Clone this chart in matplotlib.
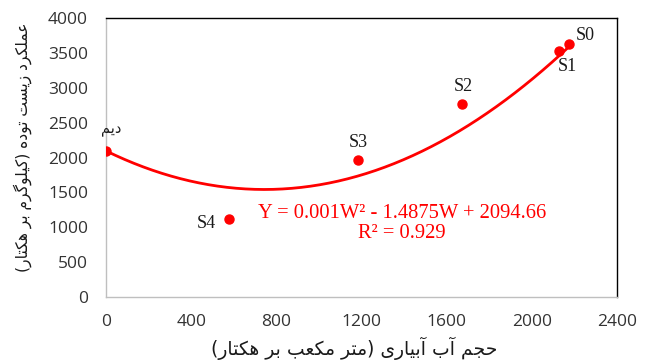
import matplotlib
matplotlib.use("Agg")
import matplotlib.pyplot as plt
import numpy as np

# Irrigation volume (m3/ha) and biomass yield (kg/ha) per treatment
water = [0, 578, 1183, 1672, 2128, 2175]
biomass = [2090, 1120, 1960, 2770, 3520, 3630]
treatments = ["دیم", "S4", "S3", "S2", "S1", "S0"]

# Quadratic trend: Y = a W^2 + b W + c
trend_coef = [0.001, -1.4875, 2094.66]
trend_r2 = 0.929

x_ticks = [0, 400, 800, 1200, 1600, 2000, 2400]
y_ticks = [0, 500, 1000, 1500, 2000, 2500, 3000, 3500, 4000]

x_title = "حجم آب آبیاری (متر مکعب بر هکتار)"
y_title = "عملکرد زیست توده (کیلوگرم بر هکتار)"

# --- minimal Persian shaping (matplotlib has no complex text layout) ---
FORMS = {
    '\u0622': ('\uFE81', '\uFE82', None, None),
    '\u0627': ('\uFE8D', '\uFE8E', None, None),
    '\u0628': ('\uFE8F', '\uFE90', '\uFE91', '\uFE92'),
    '\u062A': ('\uFE95', '\uFE96', '\uFE97', '\uFE98'),
    '\u062C': ('\uFE9D', '\uFE9E', '\uFE9F', '\uFEA0'),
    '\u062D': ('\uFEA1', '\uFEA2', '\uFEA3', '\uFEA4'),
    '\u062F': ('\uFEA9', '\uFEAA', None, None),
    '\u0631': ('\uFEAD', '\uFEAE', None, None),
    '\u0632': ('\uFEAF', '\uFEB0', None, None),
    '\u0633': ('\uFEB1', '\uFEB2', '\uFEB3', '\uFEB4'),
    '\u0639': ('\uFEC9', '\uFECA', '\uFECB', '\uFECC'),
    '\u0644': ('\uFEDD', '\uFEDE', '\uFEDF', '\uFEE0'),
    '\u0645': ('\uFEE1', '\uFEE2', '\uFEE3', '\uFEE4'),
    '\u0647': ('\uFEE9', '\uFEEA', '\uFEEB', '\uFEEC'),
    '\u0648': ('\uFEED', '\uFEEE', None, None),
    '\u06A9': ('\uFB8E', '\uFB8F', '\uFB90', '\uFB91'),
    '\u06AF': ('\uFB92', '\uFB93', '\uFB94', '\uFB95'),
    '\u06CC': ('\uFBFC', '\uFBFD', '\uFBFE', '\uFBFF'),
}


def rtl(text):
    text = text.replace('\u064A', '\u06CC').replace('\u0643', '\u06A9')
    out = []
    for i, ch in enumerate(text):
        f = FORMS.get(ch)
        if f is None:
            out.append(ch)
            continue
        prev = text[i - 1] if i > 0 else ''
        nxt = text[i + 1] if i + 1 < len(text) else ''
        join_prev = prev in FORMS and FORMS[prev][2] is not None
        join_next = f[2] is not None and nxt in FORMS
        if join_prev and join_next:
            out.append(f[3])
        elif join_prev:
            out.append(f[1])
        elif join_next:
            out.append(f[2])
        else:
            out.append(f[0])
    vis = ''.join(reversed(out))
    return vis.translate(str.maketrans('()', ')('))


RED = '#FF0000'
W, H = 650, 360
fig = plt.figure(figsize=(W / 100, H / 100), dpi=100)
ax = fig.add_axes([106 / W, 1 - 297 / H, (617 - 106) / W, (297 - 18) / H])

# trend curve
wx = np.linspace(0, max(water), 300)
ax.plot(wx, np.polyval(trend_coef, wx), color=RED, lw=2.0, zorder=2)

# observations
ax.plot(water, biomass, 'o', color=RED, ms=6.5, zorder=3)

offsets = {
    "دیم": (4, 16),
    "S4": (-16.5, -3),
    "S3": (0, 13),
    "S2": (0.7, 12.2),
    "S1": (5.8, -10.8),
    "S0": (11.5, 5.8),
}
for name, x, y in zip(treatments, water, biomass):
    dx, dy = offsets[name]
    if name.isascii():
        ax.annotate(name, (x, y), xytext=(dx, dy), textcoords='offset points',
                    ha='center', va='center', fontsize=13,
                    family='Liberation Serif', color='#1a1a1a')
    else:
        ax.annotate(rtl(name), (x, y), xytext=(dx, dy), textcoords='offset points',
                    ha='center', va='center', fontsize=10.5,
                    family='DejaVu Sans', color='#1a1a1a')

a, b, c = trend_coef
eq = f"Y = {a:g}W\u00b2 - {abs(b):g}W + {c:g}"
ax.text(1390, 1195, eq, ha='center', va='center', fontsize=14.8,
        family='Liberation Serif', color=RED)
ax.text(1390, 905, f"R\u00b2 = {trend_r2:g}", ha='center', va='center',
        fontsize=14.8, family='Liberation Serif', color=RED)

ax.set_xlim(0, 2400)
ax.set_ylim(0, 4000)
ax.set_xticks(x_ticks)
ax.set_yticks(y_ticks)
ax.tick_params(length=0, labelsize=12.5, colors='#333333')
ax.tick_params(axis='y', pad=13)
ax.tick_params(axis='x', pad=12)
for lab in ax.get_xticklabels() + ax.get_yticklabels():
    lab.set_family('Open Sans')

for side in ('left', 'bottom'):
    ax.spines[side].set_color('#BFBFBF')
    ax.spines[side].set_linewidth(1)
for side in ('top', 'right'):
    ax.spines[side].set_color('#000000')
    ax.spines[side].set_linewidth(1)

fig.text(354 / W, 1 - 348 / H, rtl(x_title), ha='center', va='center',
         fontsize=13.5, family='DejaVu Sans', color='#1a1a1a')
fig.text(23 / W, 1 - 147 / H, rtl(y_title), ha='center', va='center',
         rotation=90, fontsize=11.2, family='DejaVu Sans', color='#1a1a1a')

fig.savefig('out.png', dpi=100)
